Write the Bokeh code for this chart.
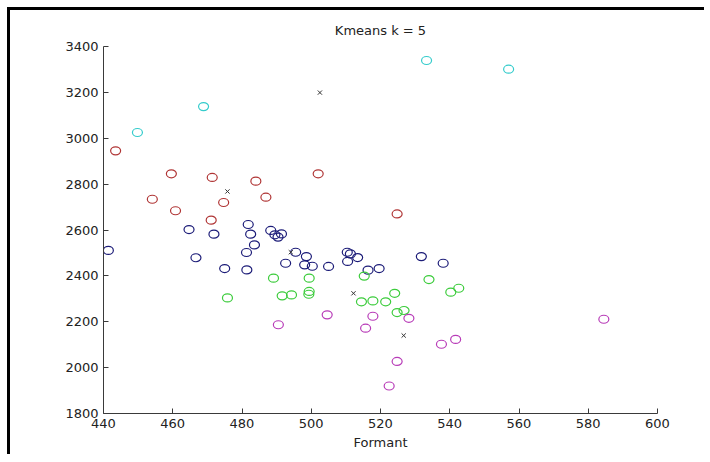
from bokeh.plotting import figure
from bokeh.models import Range1d, FixedTicker
from bokeh.embed import file_html
from bokeh.resources import INLINE

title_text = "Kmeans k = 5"
x_label = "Formant"
x_ticks = [440, 460, 480, 500, 520, 540, 560, 580, 600]
y_ticks = [1800, 2000, 2200, 2400, 2600, 2800, 3000, 3200, 3400]

red_x = [443.5, 459.6, 471.4, 484.0, 454.1, 486.9, 474.7, 460.8, 471.1, 502.0, 524.8]
red_y = [2945, 2845, 2829, 2813, 2734, 2743, 2720, 2684, 2643, 2845, 2670]

cyan_x = [449.8, 468.9, 533.3, 557.0]
cyan_y = [3025, 3138, 3339, 3301]

blue_x = [441.4, 464.7, 471.9, 466.7, 475.0, 481.4, 481.8, 482.5, 481.3, 483.6,
          488.3, 489.5, 490.4, 491.4, 495.5, 492.6, 498.6, 498.1, 500.3, 505.0,
          510.4, 511.3, 513.4, 510.5, 516.4, 519.6, 531.8, 538.1]
blue_y = [2511, 2602, 2582, 2479, 2432, 2426, 2624, 2582, 2502, 2535,
          2598, 2579, 2569, 2583, 2503, 2455, 2484, 2448, 2442, 2441,
          2503, 2496, 2480, 2463, 2425, 2432, 2484, 2455]

green_x = [489.1, 475.8, 491.6, 494.3, 499.4, 515.3, 534.0, 499.4, 499.3, 514.5,
           517.8, 521.5, 524.1, 524.8, 526.8, 540.3, 542.6]
green_y = [2390, 2304, 2313, 2317, 2390, 2399, 2384, 2332, 2320, 2287,
           2291, 2287, 2324, 2240, 2249, 2329, 2346]

magenta_x = [490.5, 504.6, 517.8, 515.7, 528.2, 537.6, 541.7, 524.8, 584.5, 522.5]
magenta_y = [2187, 2230, 2224, 2172, 2215, 2102, 2123, 2027, 2211, 1920]

centroid_x = [475.8, 502.5, 494.1, 512.2, 526.7]
centroid_y = [2768, 3199, 2503, 2324, 2140]

p = figure(frame_width=554, frame_height=367,
           min_border_left=93, min_border_right=47,
           min_border_top=36, min_border_bottom=41,
           x_range=Range1d(440, 600), y_range=Range1d(1800, 3400),
           output_backend="svg", toolbar_location=None, title=title_text)
p.styles = {"border-left": "3px solid black", "border-top": "3px solid black",
            "margin-left": "7px", "margin-top": "7px"}

p.title.align = "center"
p.title.text_font = "DejaVu Sans"
p.title.text_font_size = "13px"
p.title.text_font_style = "normal"
p.title.text_color = "#222222"
p.title.standoff = 17

p.outline_line_color = None
p.xgrid.visible = False
p.ygrid.visible = False
p.background_fill_color = "white"
p.border_fill_color = "white"

for ax in (p.xaxis[0], p.yaxis[0]):
    ax.axis_line_color = "#3a3a3a"
    ax.major_tick_line_color = "#3a3a3a"
    ax.major_tick_in = 5
    ax.major_tick_out = 0
    ax.minor_tick_line_color = None
    ax.major_label_text_font = "DejaVu Sans"
    ax.major_label_text_font_size = "13px"
    ax.major_label_text_color = "#222222"

p.xaxis[0].ticker = FixedTicker(ticks=x_ticks)
p.yaxis[0].ticker = FixedTicker(ticks=y_ticks)
p.xaxis[0].major_label_standoff = 5
p.yaxis[0].major_label_standoff = 5
p.xaxis[0].axis_label = x_label
p.xaxis[0].axis_label_text_font = "DejaVu Sans"
p.xaxis[0].axis_label_text_font_size = "13px"
p.xaxis[0].axis_label_text_font_style = "normal"
p.xaxis[0].axis_label_text_color = "#222222"
p.xaxis[0].axis_label_standoff = 4

series = [
    (red_x, red_y, "#b03535"),
    (cyan_x, cyan_y, "#35cccc"),
    (blue_x, blue_y, "#1c1c78"),
    (green_x, green_y, "#3ccc3c"),
    (magenta_x, magenta_y, "#b83cb8"),
]
for xs, ys, col in series:
    p.ellipse(x=xs, y=ys, width=10, height=8, width_units="screen", height_units="screen",
              fill_color=None, line_color=col, line_width=1.2)

p.scatter(x=centroid_x, y=centroid_y, marker="x", size=6, line_color="#333333", line_width=1)

open("out.html", "w").write(file_html(p, INLINE))
